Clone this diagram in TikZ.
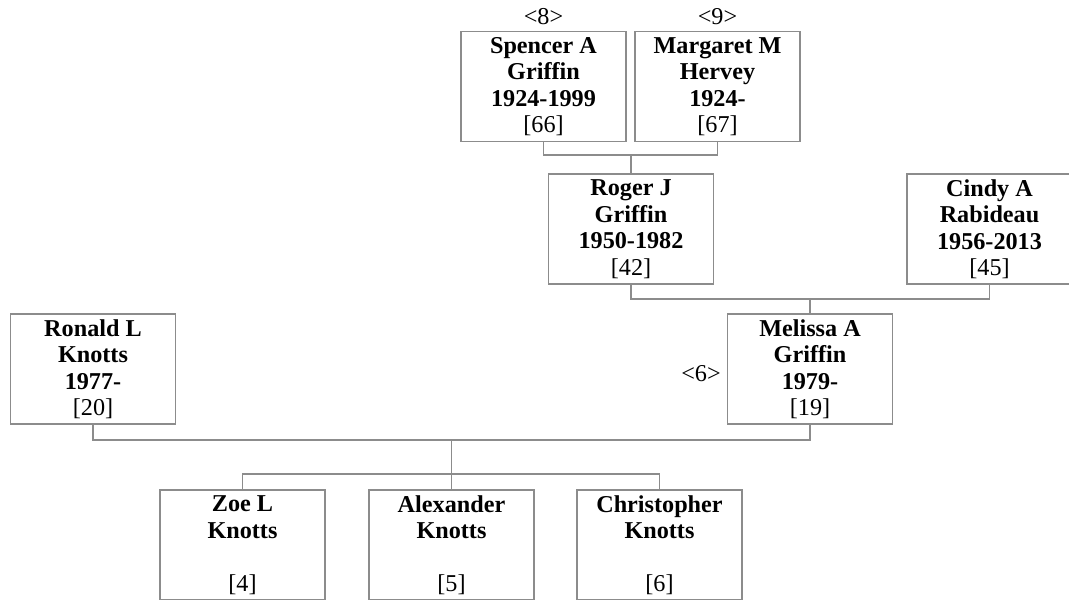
\documentclass[tikz,border=0pt]{standalone}
\usepackage{fontspec}
\setmainfont{Liberation Serif}
\definecolor{linegray}{RGB}{140,140,140}
\begin{document}
\begin{tikzpicture}[x=1pt,y=-1pt,
  person/.style={draw=linegray, line width=1.1pt, minimum width=165pt, minimum height=110pt,
    inner sep=0pt, align=center, font=\fontsize{24.2}{26.5}\selectfont, text=black},
  conn/.style={draw=linegray, line width=1.1pt},
  numlabel/.style={font=\fontsize{24.2}{26.5}\selectfont, inner sep=0pt}]
\useasboundingbox (0,0) rectangle (1069,600);
\clip (0,0) rectangle (1069,600);
% grandparents
\node[person] (spencer) at (543.5,86.5) {\textbf{Spencer A}\\\textbf{Griffin}\\\textbf{1924-1999}\\{[66]}};
\node[person] (margaret) at (717.5,86.5) {\textbf{Margaret M}\\\textbf{Hervey}\\\textbf{1924-}\\{[67]}};
\node[numlabel] (n8) at (543.5,17) {<8>};
\node[numlabel] (n9) at (717.5,17) {<9>};
% parents of Melissa
\node[person] (roger) at (631,229) {\textbf{Roger J}\\\textbf{Griffin}\\\textbf{1950-1982}\\{[42]}};
\node[person] (cindy) at (989.5,229) {\textbf{Cindy A}\\\textbf{Rabideau}\\\textbf{1956-2013}\\{[45]}};
% couple
\node[person] (ronald) at (93,369) {\textbf{Ronald L}\\\textbf{Knotts}\\\textbf{1977-}\\{[20]}};
\node[person] (melissa) at (810,369) {\textbf{Melissa A}\\\textbf{Griffin}\\\textbf{1979-}\\{[19]}};
\node[numlabel] (n6) at (701,374) {<6>};
% children
\node[person] (zoe) at (242.5,545) {\textbf{Zoe L}\\\textbf{Knotts}\\\mbox{}\\{[4]}};
\node[person] (alex) at (451.5,545) {\textbf{Alexander}\\\textbf{Knotts}\\\mbox{}\\{[5]}};
\node[person] (chris) at (659.5,545) {\textbf{Christopher}\\\textbf{Knotts}\\\mbox{}\\{[6]}};
% connectors
\coordinate (j1) at (631,155);
\coordinate (j2) at (810,299);
\coordinate (j3) at (451.5,440);
\coordinate (j4) at (451.5,474);
\draw[conn] (spencer.south) |- (j1) -| (margaret.south);
\draw[conn] (j1) -- (roger.north);
\draw[conn] (roger.south) |- (j2) -| (cindy.south);
\draw[conn] (j2) -- (melissa.north);
\draw[conn] (ronald.south) |- (j3) -| (melissa.south);
\draw[conn] (j3) -- (alex.north);
\draw[conn] (zoe.north) |- (j4) -| (chris.north);
\end{tikzpicture}
\end{document}
